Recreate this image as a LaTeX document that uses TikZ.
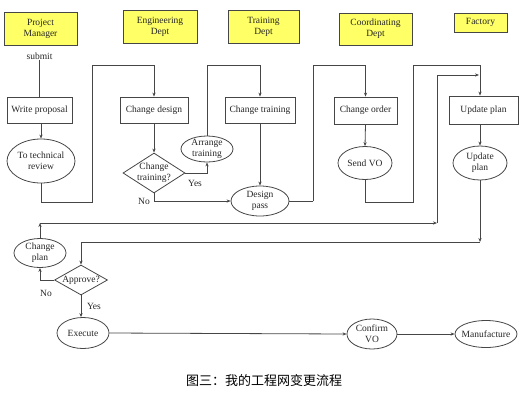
\documentclass[tikz,border=0pt]{standalone}
\usepackage{fontspec}
\setmainfont{Liberation Serif}
\newfontfamily\cjk{Noto Sans CJK SC}
\usetikzlibrary{shapes.geometric,arrows.meta}
\definecolor{hdryellow}{RGB}{255,255,102}
\definecolor{lncol}{RGB}{70,70,70}
\begin{document}
\begin{tikzpicture}[x=1pt,y=-1pt,
  every node/.style={font=\fontsize{9.5}{11}\selectfont, align=center, inner sep=0pt, text=black!85},
  hdr/.style n args={2}{draw=lncol, fill=hdryellow, line width=0.9pt, minimum width=#1, minimum height=#2},
  box/.style n args={2}{draw=lncol, fill=white, line width=0.8pt, minimum width=#1, minimum height=#2},
  ell/.style n args={2}{ellipse, draw=lncol, fill=white, line width=0.8pt, minimum width=#1, minimum height=#2},
  dia/.style n args={2}{diamond, draw=lncol, fill=white, line width=0.8pt, minimum width=#1, minimum height=#2},
  ln/.style={draw=lncol, line width=0.8pt},
  arr/.style={ln, -{Stealth[length=4pt,width=3.2pt]}},
  lbl/.style={font=\fontsize{9.5}{11}\selectfont}
]
\useasboundingbox (0,0) rectangle (521,402);

% headers
\node[hdr={73}{33}] (hPM) at (40.5,28.5) {Project\\Manager};
\node[hdr={74}{33}] (hEng) at (160,26.5) {Engineering\\Dept};
\node[hdr={71}{33}] (hTr) at (263.5,26.5) {Training\\Dept};
\node[hdr={73}{32}] (hCo) at (375.5,29) {Coordinating\\Dept};
\node[hdr={53}{19}] (hFa) at (480.5,22.5) {Factory};

% project manager column
\node[lbl] (submit) at (39.5,56) {submit};
\node[box={65}{26}] (wp) at (39.5,110) {Write proposal};
\node[ell={68}{44}, label={[name=ttrt]center:To technical\\review}] (ttr) at (41,161) {};

% engineering column
\node[box={68}{26}] (cd) at (154,110) {Change design};
\node[dia={62}{40}, label={[name=ctqt]center:Change\\training?}] (ctq) at (154,173) {};
\node[ell={52}{26}, label={[name=att]center:Arrange\\training}] (at) at (207,149) {};

% training column
\node[box={70}{26}] (ct) at (260,110) {Change training};
\node[ell={58}{30}, label={[name=dpt]center:Design\\pass}] (dp) at (260,201) {};

% coordinating column
\node[box={63}{27}] (co) at (365.5,110.5) {Change order};
\node[ell={54}{33}, label={[name=svot]center:Send VO}] (svo) at (365,163) {};

% factory column
\node[box={69}{28}] (up) at (483.5,110) {Update plan};
\node[ell={54}{34}, label={[name=upet]center:Update\\plan}] (upe) at (480,163) {};

% bottom part
\node[ell={52}{29}, label={[name=cpt]center:Change\\plan}] (cp) at (40,253) {};
\node[dia={53}{30}, label={[name=apt]center:Approve?}] (ap) at (81,280) {};
\node[ell={52}{31}, label={[name=ext]center:Execute}] (ex) at (83,333) {};
\node[ell={50}{30}, label={[name=cvot]center:Confirm\\VO}] (cvo) at (372,334) {};
\node[ell={62}{27}, label={[name=mft]center:Manufacture}] (mf) at (486,334) {};

% labels
\node[lbl] (yes1) at (195,183) {Yes};
\node[lbl] (no1) at (144,201) {No};
\node[lbl] (no2) at (46,293) {No};
\node[lbl] (yes2) at (94,306) {Yes};

% caption
\node[font=\cjk\fontsize{13}{15}\selectfont, text=black] (cap) at (264,381) {图三：我的工程网变更流程};

% corner coordinates
\coordinate (a1) at (92,202);
\coordinate (a2) at (154,65);
\coordinate (b1) at (260,65);
\coordinate (d1) at (313,201);
\coordinate (d2) at (365.5,65);
\coordinate (e1) at (413,202);
\coordinate (e2) at (480,65);
\coordinate (f1) at (480,242);
\coordinate (g1) at (40,223);
\coordinate (g2) at (437,223);
\coordinate (g3) at (479,75);

% connectors
\draw[ln] (submit.south) -- (submit.south |- wp.north);
\draw[arr] (wp.south -| ttr.north) -- (ttr.north);
\draw[arr] (ttr.south) |- (a1) |- (a2) -- (cd.north);
\draw[arr] (cd.south) -- (ctq.north);
\draw[arr] (ctq.east) -| (at.south);
\draw[arr] (at.north) |- (b1) -- (ct.north);
\draw[arr] (ctq.south) |- (dp.west);
\draw[arr] (ct.south) -- (dp.north);
\draw[ln] (dp.east) -- (d1);
\draw[arr] (d1) |- (d2) -- (co.north);
\draw[arr] (co.south) -- (svo.north);
\draw[arr] (svo.south) |- (e1) |- (e2) -- (e2 |- up.north);
\draw[arr] (upe.north |- up.south) -- (upe.north);
\draw[arr] (upe.south) -- (f1);
\draw[arr] (f1) -| (ap.north);
\draw[arr] (ap.west) -| (cp.south);
\draw[arr] (cp.north) -- (g1);
\draw[arr] (g1) -- (g2);
\draw[arr] (g2) |- (g3);
\draw[arr] (ap.south) -- (ex.north -| ap.south);
\draw[arr] (ex.east) -- (cvo.west);
\draw[arr] (cvo.east) -- (mf.west);
\end{tikzpicture}
\end{document}
